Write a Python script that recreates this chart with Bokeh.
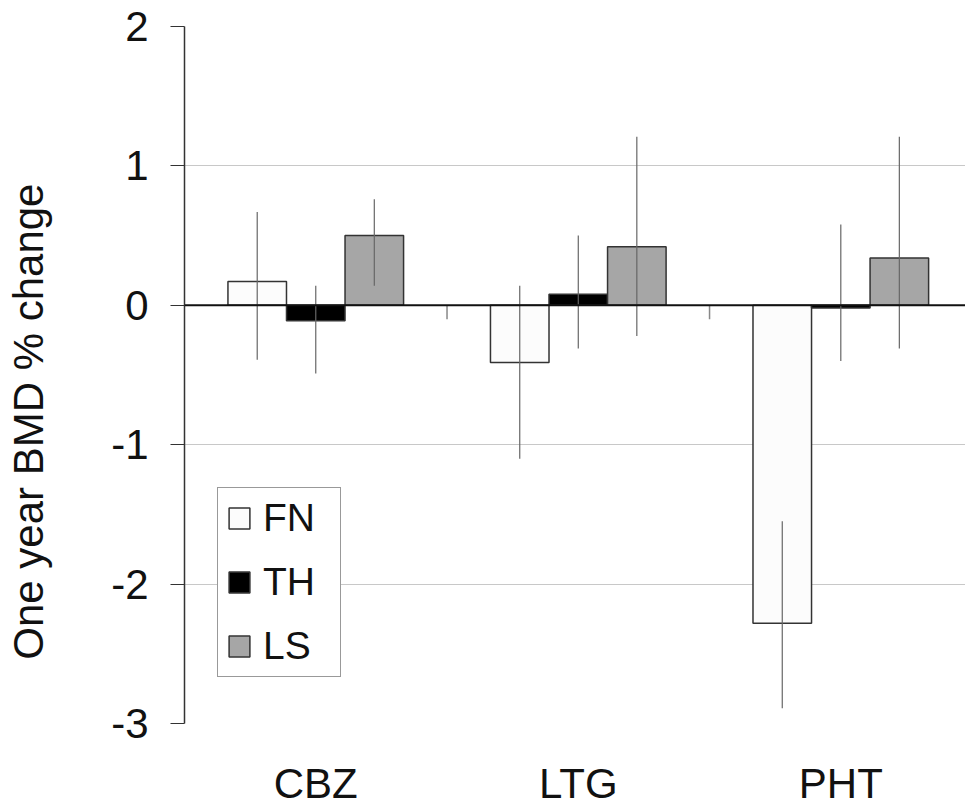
from bokeh.plotting import figure
from bokeh.models import (ColumnDataSource, FixedTicker, Legend, LegendItem,
                          Range1d, Span)
from bokeh.embed import file_html
from bokeh.resources import INLINE

categories = ["CBZ", "LTG", "PHT"]
series = ["FN", "TH", "LS"]
fn_values = [0.17, -0.41, -2.28]
th_values = [-0.11, 0.08, -0.02]
ls_values = [0.50, 0.42, 0.34]
fn_err_high = [0.67, 0.14, -1.55]
fn_err_low = [-0.39, -1.10, -2.89]
th_err_high = [0.14, 0.50, 0.58]
th_err_low = [-0.49, -0.31, -0.40]
ls_err_high = [0.76, 1.21, 1.21]
ls_err_low = [0.14, -0.22, -0.31]
y_ticks = [-3, -2, -1, 0, 1, 2]
y_title = "One year BMD % change"

FONT = "Liberation Sans"

p = figure(width=965, height=810, x_range=Range1d(0, 2.975), y_range=Range1d(-3, 2),
           output_backend="svg", toolbar_location=None,
           min_border_left=184, min_border_right=0, min_border_top=26, min_border_bottom=87)
p.outline_line_color = None
p.background_fill_color = "white"

# grid
p.xgrid.visible = False
p.ygrid.ticker = FixedTicker(ticks=[t for t in y_ticks if t not in (0, y_ticks[0], y_ticks[-1])])
p.ygrid.grid_line_color = "#c8c8c8"
p.ygrid.grid_line_width = 1

# zero line
p.add_layout(Span(location=0, dimension="width", line_color="#111111", line_width=2))

# category boundary ticks on zero line
bounds = list(range(1, len(categories)))
p.segment(x0=bounds, y0=[0] * len(bounds), x1=bounds, y1=[-0.1] * len(bounds),
          line_color="#888888", line_width=1.5)

width = 0.223
offsets = [-width, 0.0, width]
fills = ["#fcfcfc", "#000000", "#a6a6a6"]
vals = [fn_values, th_values, ls_values]
highs = [fn_err_high, th_err_high, ls_err_high]
lows = [fn_err_low, th_err_low, ls_err_low]

items = []
for name, off, fc, v, hi, lo in zip(series, offsets, fills, vals, highs, lows):
    xs = [i + 0.5 + off for i in range(len(categories))]
    src = ColumnDataSource(dict(x=xs, top=v, hi=hi, lo=lo))
    r = p.vbar(x="x", top="top", bottom=0, width=width, source=src,
               fill_color=fc, line_color="#333333", line_width=1.5)
    p.segment(x0="x", y0="lo", x1="x", y1="hi", source=src,
              line_color="#666666", line_width=1.2)
    items.append(LegendItem(label=name, renderers=[r]))

legend = Legend(items=items, location=(33, 46),
                glyph_width=26, glyph_height=26,
                label_text_font=FONT, label_text_font_size="39px",
                label_text_color="#111111", label_standoff=11, label_height=44,
                label_width=69,
                spacing=20, padding=8, margin=0,
                border_line_color="#333333", border_line_width=1.5,
                background_fill_color="white", background_fill_alpha=1.0)
p.add_layout(legend, "center")

# y axis
yax = p.yaxis[0]
yax.ticker = FixedTicker(ticks=y_ticks)
yax.major_label_overrides = {t: str(t) for t in y_ticks}
yax.major_tick_out = 14
yax.major_tick_in = 0
yax.minor_tick_line_color = None
yax.axis_line_color = "#333333"
yax.axis_line_width = 1.5
yax.major_tick_line_color = "#333333"
yax.major_tick_line_width = 1.2
yax.major_label_text_font = FONT
yax.major_label_text_font_size = "42px"
yax.major_label_text_color = "#111111"
yax.major_label_standoff = 22
# trailing no-break spaces shift the visible title a little below the middle, as in the original
yax.axis_label = y_title + "\u00a0" * 8
yax.axis_label_text_font = FONT
yax.axis_label_text_font_size = "42px"
yax.axis_label_text_font_style = "normal"
yax.axis_label_text_color = "#111111"
yax.axis_label_standoff = 56

# x axis (category labels)
xax = p.xaxis[0]
centers = [i + 0.5 for i in range(len(categories))]
xax.ticker = FixedTicker(ticks=centers)
xax.major_label_overrides = {c: lab for c, lab in zip(centers, categories)}
xax.axis_line_color = None
xax.major_tick_line_color = None
xax.minor_tick_line_color = None
xax.major_label_text_font = FONT
xax.major_label_text_font_size = "42px"
xax.major_label_text_color = "#111111"
xax.major_label_standoff = 30

open("out.html", "w").write(file_html(p, INLINE))
